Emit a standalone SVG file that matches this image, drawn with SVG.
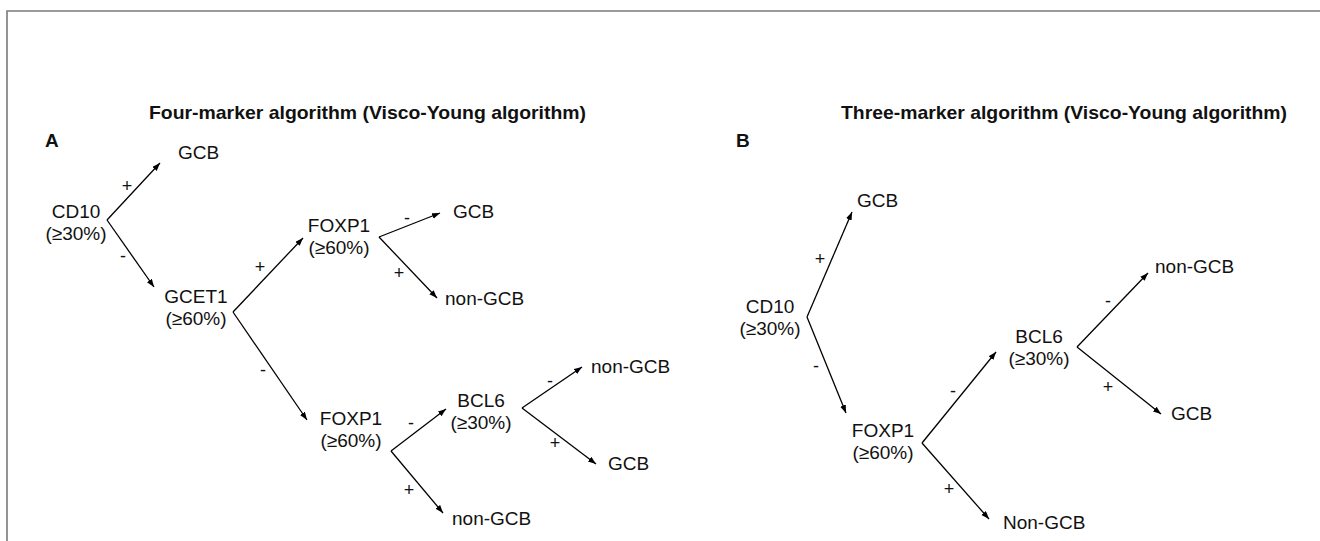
<svg xmlns="http://www.w3.org/2000/svg" width="1320" height="541" viewBox="0 0 1320 541">
<defs>
<marker id="ah" markerUnits="userSpaceOnUse" markerWidth="9" markerHeight="7" refX="8" refY="3" orient="auto">
<path d="M0,0 L8,3 L0,6 z" fill="#000"/>
</marker>
<style>
.t{font-family:"Liberation Sans",Arial,sans-serif;font-size:19px;fill:#111}
.m{text-anchor:middle}
.b{font-weight:bold}
.s{font-family:"Liberation Sans",Arial,sans-serif;font-size:18px;fill:#111;text-anchor:middle}
.c{stroke:#000;stroke-width:1.3;fill:none;marker-end:url(#ah)}
</style>
</defs>
<rect width="1320" height="541" fill="#fff"/>
<path d="M7,541 V11 H1320" fill="none" stroke="#7a7a7a" stroke-width="1.6"/>

<g id="panelA">
<text class="t b" x="149" y="119" textLength="437" lengthAdjust="spacingAndGlyphs">Four-marker algorithm (Visco-Young algorithm)</text>
<text class="t b" x="45" y="147">A</text>
</g>
<g id="panelB">
<text class="t b" x="841" y="119" textLength="446" lengthAdjust="spacingAndGlyphs">Three-marker algorithm (Visco-Young algorithm)</text>
<text class="t b" x="736" y="147">B</text>
</g>

<g id="connectors">
<line class="c" x1="107" y1="220" x2="160" y2="163"/>
<line class="c" x1="107" y1="220" x2="154" y2="287"/>
<line class="c" x1="233" y1="312" x2="303" y2="238"/>
<line class="c" x1="233" y1="312" x2="307" y2="420"/>
<line class="c" x1="379" y1="237" x2="440" y2="213"/>
<line class="c" x1="379" y1="237" x2="437" y2="298"/>
<line class="c" x1="391" y1="451" x2="446" y2="409"/>
<line class="c" x1="391" y1="451" x2="443" y2="513"/>
<line class="c" x1="522" y1="408" x2="582" y2="367"/>
<line class="c" x1="522" y1="408" x2="596" y2="464"/>
<line class="c" x1="807" y1="317" x2="852" y2="212"/>
<line class="c" x1="807" y1="317" x2="846" y2="413"/>
<line class="c" x1="922" y1="443" x2="996" y2="352"/>
<line class="c" x1="922" y1="443" x2="989" y2="519"/>
<line class="c" x1="1077" y1="347" x2="1148" y2="273"/>
<line class="c" x1="1077" y1="347" x2="1161" y2="414"/>
<g id="edge-labels">
<text class="s" x="127" y="192">+</text>
<text class="s" x="123" y="262">-</text>
<text class="s" x="260" y="273">+</text>
<text class="s" x="263" y="376">-</text>
<text class="s" x="407" y="224">-</text>
<text class="s" x="399" y="279">+</text>
<text class="s" x="411" y="429">-</text>
<text class="s" x="409" y="496">+</text>
<text class="s" x="550" y="387">-</text>
<text class="s" x="555" y="449">+</text>
<text class="s" x="820" y="265">+</text>
<text class="s" x="816" y="372">-</text>
<text class="s" x="953" y="397">-</text>
<text class="s" x="949" y="495">+</text>
<text class="s" x="1108" y="307">-</text>
<text class="s" x="1108" y="393">+</text>
</g>
</g>

<g id="a-cd10"><text class="t m" x="76" y="218">CD10</text><text class="t m" x="76" y="240">(≥30%)</text></g>
<g id="a-gcb1"><text class="t" x="178" y="159">GCB</text></g>
<g id="a-gcet1"><text class="t m" x="196" y="303">GCET1</text><text class="t m" x="196" y="325">(≥60%)</text></g>
<g id="a-foxp1-top"><text class="t m" x="339" y="232">FOXP1</text><text class="t m" x="339" y="254">(≥60%)</text></g>
<g id="a-gcb2"><text class="t" x="453" y="218">GCB</text></g>
<g id="a-nongcb1"><text class="t" x="445" y="305">non-GCB</text></g>
<g id="a-foxp1-bottom"><text class="t m" x="351" y="425">FOXP1</text><text class="t m" x="351" y="447">(≥60%)</text></g>
<g id="a-bcl6"><text class="t m" x="481" y="407">BCL6</text><text class="t m" x="481" y="429">(≥30%)</text></g>
<g id="a-nongcb2"><text class="t" x="591" y="373">non-GCB</text></g>
<g id="a-gcb3"><text class="t" x="608" y="470">GCB</text></g>
<g id="a-nongcb3"><text class="t" x="452" y="525">non-GCB</text></g>

<g id="b-cd10"><text class="t m" x="770" y="313">CD10</text><text class="t m" x="770" y="335">(≥30%)</text></g>
<g id="b-gcb1"><text class="t" x="857" y="207">GCB</text></g>
<g id="b-foxp1"><text class="t m" x="883" y="437">FOXP1</text><text class="t m" x="883" y="459">(≥60%)</text></g>
<g id="b-bcl6"><text class="t m" x="1039" y="343">BCL6</text><text class="t m" x="1039" y="365">(≥30%)</text></g>
<g id="b-nongcb1"><text class="t" x="1155" y="273">non-GCB</text></g>
<g id="b-gcb2"><text class="t" x="1171" y="420">GCB</text></g>
<g id="b-nongcb2"><text class="t" x="1003" y="529">Non-GCB</text></g>
</svg>
